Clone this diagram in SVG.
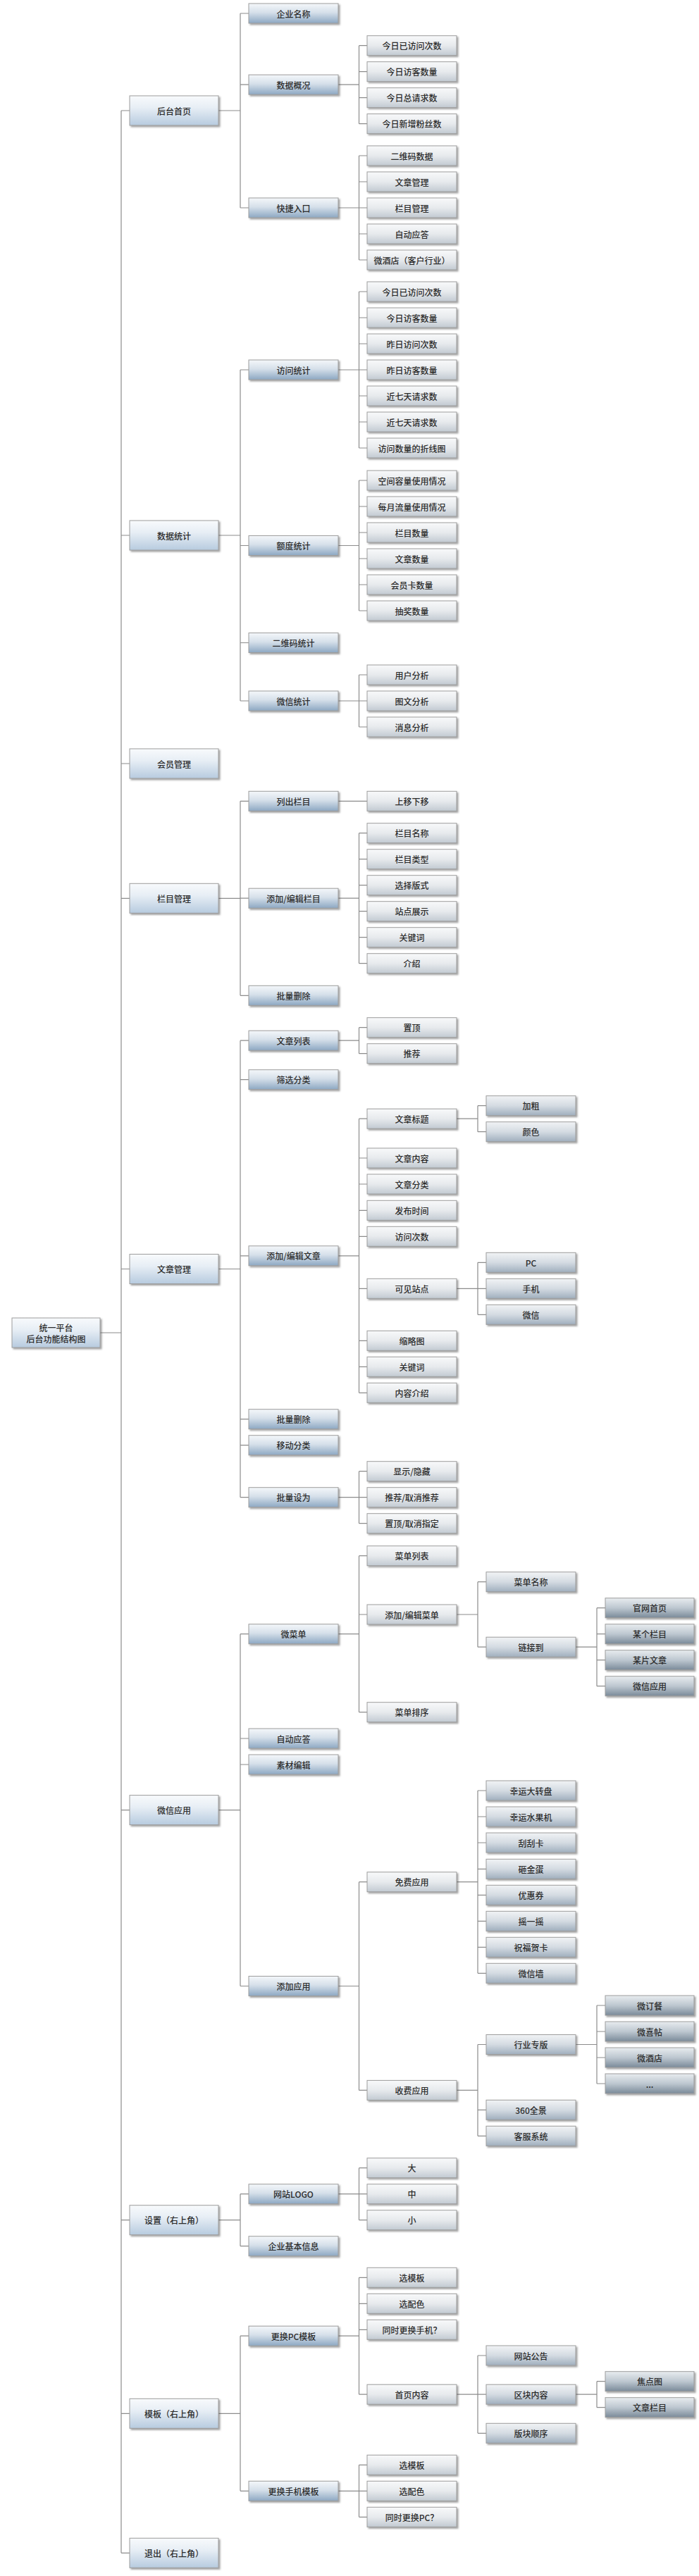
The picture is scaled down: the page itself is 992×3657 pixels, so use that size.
<svg xmlns="http://www.w3.org/2000/svg" width="992" height="3657" viewBox="0 0 992 3657">
<defs>
<linearGradient id="g1" x1="0" y1="0" x2="0" y2="1"><stop offset="0" stop-color="#f8fafc"/><stop offset="0.4" stop-color="#e7eef5"/><stop offset="1" stop-color="#b7cbdf"/></linearGradient>
<linearGradient id="g2" x1="0" y1="0" x2="0" y2="1"><stop offset="0" stop-color="#f4f7fa"/><stop offset="0.45" stop-color="#d6e0ea"/><stop offset="1" stop-color="#8da8c3"/></linearGradient>
<linearGradient id="g3" x1="0" y1="0" x2="0" y2="1"><stop offset="0" stop-color="#f8f9fa"/><stop offset="0.5" stop-color="#e7eaed"/><stop offset="1" stop-color="#c2cad2"/></linearGradient>
<linearGradient id="g4" x1="0" y1="0" x2="0" y2="1"><stop offset="0" stop-color="#f1f3f5"/><stop offset="0.5" stop-color="#d4dbe2"/><stop offset="1" stop-color="#a0afbe"/></linearGradient>
<linearGradient id="g5" x1="0" y1="0" x2="0" y2="1"><stop offset="0" stop-color="#e8ecef"/><stop offset="0.5" stop-color="#bdc7d0"/><stop offset="1" stop-color="#7a8a99"/></linearGradient>
<filter id="sh" x="-10%" y="-20%" width="130%" height="170%"><feDropShadow dx="2" dy="2" stdDeviation="1.2" flood-color="#444" flood-opacity="0.5"/></filter>
</defs>
<style>
.n rect{stroke:#9d9d9d;stroke-width:1;filter:url(#sh)}
.n text{font-family:"Noto Sans CJK SC","Noto Sans",sans-serif;font-size:12px;font-weight:500;fill:#2b2b2b;text-anchor:middle;dominant-baseline:central}
.l1 rect{fill:url(#g1)}
.l2 rect{fill:url(#g2)}
.l3 rect{fill:url(#g3)}
.l4 rect{fill:url(#g4)}
.l5 rect{fill:url(#g5)}
.c path{fill:none;stroke:#8c8c8c;stroke-width:1.2}
</style>
<rect width="992" height="3657" fill="#ffffff"/>
<g id="connectors" class="c">
<path d="M142,1892H172M172,157V3624.3M172,157H184M172,760H184M172,1084H184M172,1275.3H184M172,1801.5H184M172,2569.6H184M172,3151.7H184M172,3426.3H184M172,3624.3H184"/>
<path d="M310,157H341M341,19V295M341,19H353M341,120.2H353M341,295H353"/>
<path d="M480,120.2H509.5M509.5,64.7V175.7M509.5,64.7H521M509.5,101.7H521M509.5,138.7H521M509.5,175.7H521"/>
<path d="M480,295H509.5M509.5,221V369M509.5,221H521M509.5,258H521M509.5,295H521M509.5,332H521M509.5,369H521"/>
<path d="M310,760H341M341,525V995M341,525H353M341,774.5H353M341,912.5H353M341,995H353"/>
<path d="M480,525H509.5M509.5,414V636M509.5,414H521M509.5,451H521M509.5,488H521M509.5,525H521M509.5,562H521M509.5,599H521M509.5,636H521"/>
<path d="M480,774.5H509.5M509.5,682V867M509.5,682H521M509.5,719H521M509.5,756H521M509.5,793H521M509.5,830H521M509.5,867H521"/>
<path d="M480,995H509.5M509.5,958V1032M509.5,958H521M509.5,995H521M509.5,1032H521"/>
<path d="M310,1275.3H341M341,1137.3V1413.3M341,1137.3H353M341,1275.2H353M341,1413.3H353"/>
<path d="M480,1137.3H521"/>
<path d="M480,1275.2H509.5M509.5,1182.7V1367.7M509.5,1182.7H521M509.5,1219.7H521M509.5,1256.7H521M509.5,1293.7H521M509.5,1330.7H521M509.5,1367.7H521"/>
<path d="M310,1801.5H341M341,1477.2V2125.7M341,1477.2H353M341,1532.7H353M341,1782.8H353M341,2014.7H353M341,2051.7H353M341,2125.7H353"/>
<path d="M480,1477.2H509.5M509.5,1458.7V1495.7M509.5,1458.7H521M509.5,1495.7H521"/>
<path d="M480,1782.8H509.5M509.5,1588.2V1977.3M509.5,1588.2H521M509.5,1644H521M509.5,1681H521M509.5,1718.3H521M509.5,1755.3H521M509.5,1829.3H521M509.5,1903.3H521M509.5,1940.3H521M509.5,1977.3H521"/>
<path d="M648,1588.2H678M678,1569.7V1606.7M678,1569.7H690M678,1606.7H690"/>
<path d="M648,1829.3H678M678,1792.3V1866.3M678,1792.3H690M678,1829.3H690M678,1866.3H690"/>
<path d="M480,2125.7H509.5M509.5,2088.7V2162.7M509.5,2088.7H521M509.5,2125.7H521M509.5,2162.7H521"/>
<path d="M310,2569.6H341M341,2319.7V2819.5M341,2319.7H353M341,2468H353M341,2505H353M341,2819.5H353"/>
<path d="M480,2319.7H509.5M509.5,2208.7V2430.7M509.5,2208.7H521M509.5,2292H521M509.5,2430.7H521"/>
<path d="M648,2292H678M678,2245.7V2338.2M678,2245.7H690M678,2338.2H690"/>
<path d="M817,2338.2H847M847,2282.7V2393.7M847,2282.7H859M847,2319.7H859M847,2356.7H859M847,2393.7H859"/>
<path d="M480,2819.5H509.5M509.5,2671.7V2967.4M509.5,2671.7H521M509.5,2967.4H521"/>
<path d="M648,2671.7H678M678,2542V2801.3M678,2542H690M678,2579H690M678,2616H690M678,2653.3H690M678,2690.3H690M678,2727.3H690M678,2764.3H690M678,2801.3H690"/>
<path d="M648,2967.4H678M678,2902.5V3032.3M678,2902.5H690M678,2995.3H690M678,3032.3H690"/>
<path d="M817,2902.5H847M847,2847V2958M847,2847H859M847,2884H859M847,2921H859M847,2958H859"/>
<path d="M310,3151.7H341M341,3114.7V3188.7M341,3114.7H353M341,3188.7H353"/>
<path d="M480,3114.7H509.5M509.5,3077.7V3151.7M509.5,3077.7H521M509.5,3114.7H521M509.5,3151.7H521"/>
<path d="M310,3426.3H341M341,3316.2V3536.3M341,3316.2H353M341,3536.3H353"/>
<path d="M480,3316.2H509.5M509.5,3233.3V3399.2M509.5,3233.3H521M509.5,3270.3H521M509.5,3307.3H521M509.5,3399.2H521"/>
<path d="M648,3399.2H678M678,3344V3454.3M678,3344H690M678,3399.2H690M678,3454.3H690"/>
<path d="M817,3399.2H847M847,3380.7V3417.7M847,3380.7H859M847,3417.7H859"/>
<path d="M480,3536.3H509.5M509.5,3499.3V3573.3M509.5,3499.3H521M509.5,3536.3H521M509.5,3573.3H521"/>
</g>
<g id="root" class="n l1" transform="translate(17,1871)"><rect width="125" height="42"/><text x="62.5" y="13">统一平台</text><text x="62.5" y="29">后台功能结构图</text></g>
<g id="n-houtai" class="n l1" transform="translate(184,136)"><rect width="126" height="42"/><text x="63" y="21">后台首页</text></g>
<g id="n-shuju" class="n l1" transform="translate(184,739)"><rect width="126" height="42"/><text x="63" y="21">数据统计</text></g>
<g id="n-huiyuan" class="n l1" transform="translate(184,1063)"><rect width="126" height="42"/><text x="63" y="21">会员管理</text></g>
<g id="n-lanmu" class="n l1" transform="translate(184,1254.3)"><rect width="126" height="42"/><text x="63" y="21">栏目管理</text></g>
<g id="n-wenzhang" class="n l1" transform="translate(184,1780.5)"><rect width="126" height="42"/><text x="63" y="21">文章管理</text></g>
<g id="n-weixin" class="n l1" transform="translate(184,2548.6)"><rect width="126" height="42"/><text x="63" y="21">微信应用</text></g>
<g id="n-shezhi" class="n l1" transform="translate(184,3130.7)"><rect width="126" height="42"/><text x="63" y="21">设置（右上角）</text></g>
<g id="n-moban" class="n l1" transform="translate(184,3405.3)"><rect width="126" height="42"/><text x="63" y="21">模板（右上角）</text></g>
<g id="n-tuichu" class="n l1" transform="translate(184,3603.3)"><rect width="126" height="42"/><text x="63" y="21">退出（右上角）</text></g>
<g id="n2-1" class="n l2" transform="translate(353,5)"><rect width="127" height="28"/><text x="63.5" y="14">企业名称</text></g>
<g id="n2-2" class="n l2" transform="translate(353,106.2)"><rect width="127" height="28"/><text x="63.5" y="14">数据概况</text></g>
<g id="n2-3" class="n l2" transform="translate(353,281)"><rect width="127" height="28"/><text x="63.5" y="14">快捷入口</text></g>
<g id="n2-4" class="n l2" transform="translate(353,511)"><rect width="127" height="28"/><text x="63.5" y="14">访问统计</text></g>
<g id="n2-5" class="n l2" transform="translate(353,760.5)"><rect width="127" height="28"/><text x="63.5" y="14">额度统计</text></g>
<g id="n2-6" class="n l2" transform="translate(353,898.5)"><rect width="127" height="28"/><text x="63.5" y="14">二维码统计</text></g>
<g id="n2-7" class="n l2" transform="translate(353,981)"><rect width="127" height="28"/><text x="63.5" y="14">微信统计</text></g>
<g id="n2-8" class="n l2" transform="translate(353,1123.3)"><rect width="127" height="28"/><text x="63.5" y="14">列出栏目</text></g>
<g id="n2-9" class="n l2" transform="translate(353,1261.2)"><rect width="127" height="28"/><text x="63.5" y="14">添加/编辑栏目</text></g>
<g id="n2-10" class="n l2" transform="translate(353,1399.3)"><rect width="127" height="28"/><text x="63.5" y="14">批量删除</text></g>
<g id="n2-11" class="n l2" transform="translate(353,1463.2)"><rect width="127" height="28"/><text x="63.5" y="14">文章列表</text></g>
<g id="n2-12" class="n l2" transform="translate(353,1518.7)"><rect width="127" height="28"/><text x="63.5" y="14">筛选分类</text></g>
<g id="n2-13" class="n l2" transform="translate(353,1768.8)"><rect width="127" height="28"/><text x="63.5" y="14">添加/编辑文章</text></g>
<g id="n2-14" class="n l2" transform="translate(353,2000.7)"><rect width="127" height="28"/><text x="63.5" y="14">批量删除</text></g>
<g id="n2-15" class="n l2" transform="translate(353,2037.7)"><rect width="127" height="28"/><text x="63.5" y="14">移动分类</text></g>
<g id="n2-16" class="n l2" transform="translate(353,2111.7)"><rect width="127" height="28"/><text x="63.5" y="14">批量设为</text></g>
<g id="n2-17" class="n l2" transform="translate(353,2305.7)"><rect width="127" height="28"/><text x="63.5" y="14">微菜单</text></g>
<g id="n2-18" class="n l2" transform="translate(353,2454)"><rect width="127" height="28"/><text x="63.5" y="14">自动应答</text></g>
<g id="n2-19" class="n l2" transform="translate(353,2491)"><rect width="127" height="28"/><text x="63.5" y="14">素材编辑</text></g>
<g id="n2-20" class="n l2" transform="translate(353,2805.5)"><rect width="127" height="28"/><text x="63.5" y="14">添加应用</text></g>
<g id="n2-21" class="n l2" transform="translate(353,3100.7)"><rect width="127" height="28"/><text x="63.5" y="14">网站LOGO</text></g>
<g id="n2-22" class="n l2" transform="translate(353,3174.7)"><rect width="127" height="28"/><text x="63.5" y="14">企业基本信息</text></g>
<g id="n2-23" class="n l2" transform="translate(353,3302.2)"><rect width="127" height="28"/><text x="63.5" y="14">更换PC模板</text></g>
<g id="n2-24" class="n l2" transform="translate(353,3522.3)"><rect width="127" height="28"/><text x="63.5" y="14">更换手机模板</text></g>
<g id="n3-1" class="n l3" transform="translate(521,50.7)"><rect width="127" height="28"/><text x="63.5" y="14">今日已访问次数</text></g>
<g id="n3-2" class="n l3" transform="translate(521,87.7)"><rect width="127" height="28"/><text x="63.5" y="14">今日访客数量</text></g>
<g id="n3-3" class="n l3" transform="translate(521,124.7)"><rect width="127" height="28"/><text x="63.5" y="14">今日总请求数</text></g>
<g id="n3-4" class="n l3" transform="translate(521,161.7)"><rect width="127" height="28"/><text x="63.5" y="14">今日新增粉丝数</text></g>
<g id="n3-5" class="n l3" transform="translate(521,207)"><rect width="127" height="28"/><text x="63.5" y="14">二维码数据</text></g>
<g id="n3-6" class="n l3" transform="translate(521,244)"><rect width="127" height="28"/><text x="63.5" y="14">文章管理</text></g>
<g id="n3-7" class="n l3" transform="translate(521,281)"><rect width="127" height="28"/><text x="63.5" y="14">栏目管理</text></g>
<g id="n3-8" class="n l3" transform="translate(521,318)"><rect width="127" height="28"/><text x="63.5" y="14">自动应答</text></g>
<g id="n3-9" class="n l3" transform="translate(521,355)"><rect width="127" height="28"/><text x="63.5" y="14">微酒店（客户行业）</text></g>
<g id="n3-10" class="n l3" transform="translate(521,400)"><rect width="127" height="28"/><text x="63.5" y="14">今日已访问次数</text></g>
<g id="n3-11" class="n l3" transform="translate(521,437)"><rect width="127" height="28"/><text x="63.5" y="14">今日访客数量</text></g>
<g id="n3-12" class="n l3" transform="translate(521,474)"><rect width="127" height="28"/><text x="63.5" y="14">昨日访问次数</text></g>
<g id="n3-13" class="n l3" transform="translate(521,511)"><rect width="127" height="28"/><text x="63.5" y="14">昨日访客数量</text></g>
<g id="n3-14" class="n l3" transform="translate(521,548)"><rect width="127" height="28"/><text x="63.5" y="14">近七天请求数</text></g>
<g id="n3-15" class="n l3" transform="translate(521,585)"><rect width="127" height="28"/><text x="63.5" y="14">近七天请求数</text></g>
<g id="n3-16" class="n l3" transform="translate(521,622)"><rect width="127" height="28"/><text x="63.5" y="14">访问数量的折线图</text></g>
<g id="n3-17" class="n l3" transform="translate(521,668)"><rect width="127" height="28"/><text x="63.5" y="14">空间容量使用情况</text></g>
<g id="n3-18" class="n l3" transform="translate(521,705)"><rect width="127" height="28"/><text x="63.5" y="14">每月流量使用情况</text></g>
<g id="n3-19" class="n l3" transform="translate(521,742)"><rect width="127" height="28"/><text x="63.5" y="14">栏目数量</text></g>
<g id="n3-20" class="n l3" transform="translate(521,779)"><rect width="127" height="28"/><text x="63.5" y="14">文章数量</text></g>
<g id="n3-21" class="n l3" transform="translate(521,816)"><rect width="127" height="28"/><text x="63.5" y="14">会员卡数量</text></g>
<g id="n3-22" class="n l3" transform="translate(521,853)"><rect width="127" height="28"/><text x="63.5" y="14">抽奖数量</text></g>
<g id="n3-23" class="n l3" transform="translate(521,944)"><rect width="127" height="28"/><text x="63.5" y="14">用户分析</text></g>
<g id="n3-24" class="n l3" transform="translate(521,981)"><rect width="127" height="28"/><text x="63.5" y="14">图文分析</text></g>
<g id="n3-25" class="n l3" transform="translate(521,1018)"><rect width="127" height="28"/><text x="63.5" y="14">消息分析</text></g>
<g id="n3-26" class="n l3" transform="translate(521,1123.3)"><rect width="127" height="28"/><text x="63.5" y="14">上移下移</text></g>
<g id="n3-27" class="n l3" transform="translate(521,1168.7)"><rect width="127" height="28"/><text x="63.5" y="14">栏目名称</text></g>
<g id="n3-28" class="n l3" transform="translate(521,1205.7)"><rect width="127" height="28"/><text x="63.5" y="14">栏目类型</text></g>
<g id="n3-29" class="n l3" transform="translate(521,1242.7)"><rect width="127" height="28"/><text x="63.5" y="14">选择版式</text></g>
<g id="n3-30" class="n l3" transform="translate(521,1279.7)"><rect width="127" height="28"/><text x="63.5" y="14">站点展示</text></g>
<g id="n3-31" class="n l3" transform="translate(521,1316.7)"><rect width="127" height="28"/><text x="63.5" y="14">关键词</text></g>
<g id="n3-32" class="n l3" transform="translate(521,1353.7)"><rect width="127" height="28"/><text x="63.5" y="14">介绍</text></g>
<g id="n3-33" class="n l3" transform="translate(521,1444.7)"><rect width="127" height="28"/><text x="63.5" y="14">置顶</text></g>
<g id="n3-34" class="n l3" transform="translate(521,1481.7)"><rect width="127" height="28"/><text x="63.5" y="14">推荐</text></g>
<g id="n3-35" class="n l3" transform="translate(521,1574.2)"><rect width="127" height="28"/><text x="63.5" y="14">文章标题</text></g>
<g id="n3-36" class="n l3" transform="translate(521,1630)"><rect width="127" height="28"/><text x="63.5" y="14">文章内容</text></g>
<g id="n3-37" class="n l3" transform="translate(521,1667)"><rect width="127" height="28"/><text x="63.5" y="14">文章分类</text></g>
<g id="n3-38" class="n l3" transform="translate(521,1704.3)"><rect width="127" height="28"/><text x="63.5" y="14">发布时间</text></g>
<g id="n3-39" class="n l3" transform="translate(521,1741.3)"><rect width="127" height="28"/><text x="63.5" y="14">访问次数</text></g>
<g id="n3-40" class="n l3" transform="translate(521,1815.3)"><rect width="127" height="28"/><text x="63.5" y="14">可见站点</text></g>
<g id="n3-41" class="n l3" transform="translate(521,1889.3)"><rect width="127" height="28"/><text x="63.5" y="14">缩略图</text></g>
<g id="n3-42" class="n l3" transform="translate(521,1926.3)"><rect width="127" height="28"/><text x="63.5" y="14">关键词</text></g>
<g id="n3-43" class="n l3" transform="translate(521,1963.3)"><rect width="127" height="28"/><text x="63.5" y="14">内容介绍</text></g>
<g id="n3-44" class="n l3" transform="translate(521,2074.7)"><rect width="127" height="28"/><text x="63.5" y="14">显示/隐藏</text></g>
<g id="n3-45" class="n l3" transform="translate(521,2111.7)"><rect width="127" height="28"/><text x="63.5" y="14">推荐/取消推荐</text></g>
<g id="n3-46" class="n l3" transform="translate(521,2148.7)"><rect width="127" height="28"/><text x="63.5" y="14">置顶/取消指定</text></g>
<g id="n3-47" class="n l3" transform="translate(521,2194.7)"><rect width="127" height="28"/><text x="63.5" y="14">菜单列表</text></g>
<g id="n3-48" class="n l3" transform="translate(521,2278)"><rect width="127" height="28"/><text x="63.5" y="14">添加/编辑菜单</text></g>
<g id="n3-49" class="n l3" transform="translate(521,2416.7)"><rect width="127" height="28"/><text x="63.5" y="14">菜单排序</text></g>
<g id="n3-50" class="n l3" transform="translate(521,2657.7)"><rect width="127" height="28"/><text x="63.5" y="14">免费应用</text></g>
<g id="n3-51" class="n l3" transform="translate(521,2953.4)"><rect width="127" height="28"/><text x="63.5" y="14">收费应用</text></g>
<g id="n3-52" class="n l3" transform="translate(521,3063.7)"><rect width="127" height="28"/><text x="63.5" y="14">大</text></g>
<g id="n3-53" class="n l3" transform="translate(521,3100.7)"><rect width="127" height="28"/><text x="63.5" y="14">中</text></g>
<g id="n3-54" class="n l3" transform="translate(521,3137.7)"><rect width="127" height="28"/><text x="63.5" y="14">小</text></g>
<g id="n3-55" class="n l3" transform="translate(521,3219.3)"><rect width="127" height="28"/><text x="63.5" y="14">选模板</text></g>
<g id="n3-56" class="n l3" transform="translate(521,3256.3)"><rect width="127" height="28"/><text x="63.5" y="14">选配色</text></g>
<g id="n3-57" class="n l3" transform="translate(521,3293.3)"><rect width="127" height="28"/><text x="63.5" y="14">同时更换手机？</text></g>
<g id="n3-58" class="n l3" transform="translate(521,3385.2)"><rect width="127" height="28"/><text x="63.5" y="14">首页内容</text></g>
<g id="n3-59" class="n l3" transform="translate(521,3485.3)"><rect width="127" height="28"/><text x="63.5" y="14">选模板</text></g>
<g id="n3-60" class="n l3" transform="translate(521,3522.3)"><rect width="127" height="28"/><text x="63.5" y="14">选配色</text></g>
<g id="n3-61" class="n l3" transform="translate(521,3559.3)"><rect width="127" height="28"/><text x="63.5" y="14">同时更换PC？</text></g>
<g id="n4-1" class="n l4" transform="translate(690,1555.7)"><rect width="127" height="28"/><text x="63.5" y="14">加粗</text></g>
<g id="n4-2" class="n l4" transform="translate(690,1592.7)"><rect width="127" height="28"/><text x="63.5" y="14">颜色</text></g>
<g id="n4-3" class="n l4" transform="translate(690,1778.3)"><rect width="127" height="28"/><text x="63.5" y="14">PC</text></g>
<g id="n4-4" class="n l4" transform="translate(690,1815.3)"><rect width="127" height="28"/><text x="63.5" y="14">手机</text></g>
<g id="n4-5" class="n l4" transform="translate(690,1852.3)"><rect width="127" height="28"/><text x="63.5" y="14">微信</text></g>
<g id="n4-6" class="n l4" transform="translate(690,2231.7)"><rect width="127" height="28"/><text x="63.5" y="14">菜单名称</text></g>
<g id="n4-7" class="n l4" transform="translate(690,2324.2)"><rect width="127" height="28"/><text x="63.5" y="14">链接到</text></g>
<g id="n4-8" class="n l4" transform="translate(690,2528)"><rect width="127" height="28"/><text x="63.5" y="14">幸运大转盘</text></g>
<g id="n4-9" class="n l4" transform="translate(690,2565)"><rect width="127" height="28"/><text x="63.5" y="14">幸运水果机</text></g>
<g id="n4-10" class="n l4" transform="translate(690,2602)"><rect width="127" height="28"/><text x="63.5" y="14">刮刮卡</text></g>
<g id="n4-11" class="n l4" transform="translate(690,2639.3)"><rect width="127" height="28"/><text x="63.5" y="14">砸金蛋</text></g>
<g id="n4-12" class="n l4" transform="translate(690,2676.3)"><rect width="127" height="28"/><text x="63.5" y="14">优惠券</text></g>
<g id="n4-13" class="n l4" transform="translate(690,2713.3)"><rect width="127" height="28"/><text x="63.5" y="14">摇一摇</text></g>
<g id="n4-14" class="n l4" transform="translate(690,2750.3)"><rect width="127" height="28"/><text x="63.5" y="14">祝福贺卡</text></g>
<g id="n4-15" class="n l4" transform="translate(690,2787.3)"><rect width="127" height="28"/><text x="63.5" y="14">微信墙</text></g>
<g id="n4-16" class="n l4" transform="translate(690,2888.5)"><rect width="127" height="28"/><text x="63.5" y="14">行业专版</text></g>
<g id="n4-17" class="n l4" transform="translate(690,2981.3)"><rect width="127" height="28"/><text x="63.5" y="14">360全景</text></g>
<g id="n4-18" class="n l4" transform="translate(690,3018.3)"><rect width="127" height="28"/><text x="63.5" y="14">客服系统</text></g>
<g id="n4-19" class="n l4" transform="translate(690,3330)"><rect width="127" height="28"/><text x="63.5" y="14">网站公告</text></g>
<g id="n4-20" class="n l4" transform="translate(690,3385.2)"><rect width="127" height="28"/><text x="63.5" y="14">区块内容</text></g>
<g id="n4-21" class="n l4" transform="translate(690,3440.3)"><rect width="127" height="28"/><text x="63.5" y="14">版块顺序</text></g>
<g id="n5-1" class="n l5" transform="translate(859,2268.7)"><rect width="126" height="28"/><text x="63" y="14">官网首页</text></g>
<g id="n5-2" class="n l5" transform="translate(859,2305.7)"><rect width="126" height="28"/><text x="63" y="14">某个栏目</text></g>
<g id="n5-3" class="n l5" transform="translate(859,2342.7)"><rect width="126" height="28"/><text x="63" y="14">某片文章</text></g>
<g id="n5-4" class="n l5" transform="translate(859,2379.7)"><rect width="126" height="28"/><text x="63" y="14">微信应用</text></g>
<g id="n5-5" class="n l5" transform="translate(859,2833)"><rect width="126" height="28"/><text x="63" y="14">微订餐</text></g>
<g id="n5-6" class="n l5" transform="translate(859,2870)"><rect width="126" height="28"/><text x="63" y="14">微喜帖</text></g>
<g id="n5-7" class="n l5" transform="translate(859,2907)"><rect width="126" height="28"/><text x="63" y="14">微酒店</text></g>
<g id="n5-8" class="n l5" transform="translate(859,2944)"><rect width="126" height="28"/><text x="63" y="14">...</text></g>
<g id="n5-9" class="n l5" transform="translate(859,3366.7)"><rect width="126" height="28"/><text x="63" y="14">焦点图</text></g>
<g id="n5-10" class="n l5" transform="translate(859,3403.7)"><rect width="126" height="28"/><text x="63" y="14">文章栏目</text></g>
</svg>
